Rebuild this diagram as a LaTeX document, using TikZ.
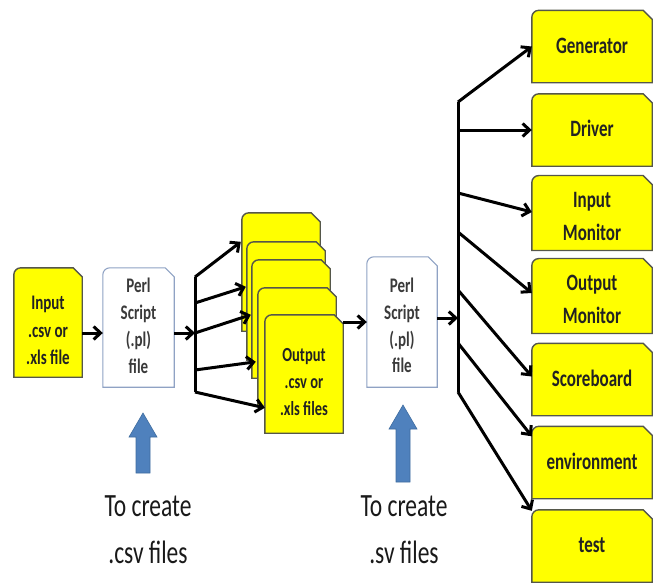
\documentclass[tikz,border=0pt]{standalone}
\usepackage{fontspec}
\setmainfont{Carlito}
\usepackage{graphicx}
\usetikzlibrary{arrows.meta,calc,backgrounds}

\definecolor{boxyellow}{HTML}{FFFF00}
\definecolor{yellowline}{HTML}{55574A}
\definecolor{perlline}{HTML}{8FA2C4}
\definecolor{hintblue}{HTML}{4F81BD}
\definecolor{hintline}{HTML}{3E6C9F}
\definecolor{boxtext}{HTML}{222222}
\definecolor{perltext}{HTML}{3A3A3A}

% text lines set tall and narrow
\newcommand\tallstack[1]{\scalebox{1}[1.38]{\begin{tabular}{@{}c@{}}#1\end{tabular}}}

% outline of a file card: snipped top-right corner, rounded top-left corner
\newcommand\snip{9pt}
\newcommand\rnd{7pt}
\newcommand\cardoutline[2]{%
  \path[#2] (#1.south west) -- (#1.south east) -- ([yshift=-\snip]#1.north east)
    -- ([xshift=-\snip]#1.north east) -- ([xshift=\rnd]#1.north west)
    arc[start angle=90,end angle=180,radius=\rnd] -- cycle;}

\tikzset{
  card/.style={inner sep=0pt, text=boxtext},
  yellowcard/.style={fill=boxyellow, draw=yellowline, line width=1.4pt},
  perlcard/.style={fill=white, draw=perlline, line width=1.1pt},
  flow/.style={line width=3pt, black, -{Straight Barb[length=7pt,width=13pt]}},
  trunk/.style={line width=3pt, black},
  hint/.style={fill=hintblue, draw=hintline, line width=0.6pt},
}

\begin{document}
\begin{tikzpicture}[x=1pt,y=-1pt]
\useasboundingbox (0,0) rectangle (660,582);

% ---- source file and first script
\node[card, minimum width=68pt, minimum height=109pt,
      font=\bfseries\fontsize{15}{20}\selectfont] (input) at (48,322.5)
      {\tallstack{\\[-7pt]Input\\.csv or\\.xls file}};
\node[card, minimum width=71pt, minimum height=119pt, text=perltext,
      font=\bfseries\fontsize{15}{19.5}\selectfont] (perl1) at (138.5,327.5)
      {\tallstack{Perl\\Script\\(.pl)\\file}};

% ---- stack of generated files
\node[card, minimum width=78pt, minimum height=118pt] (out1) at (281,272) {};
\node[card, minimum width=78pt, minimum height=118pt] (out2) at (286,301) {};
\node[card, minimum width=78pt, minimum height=118pt] (out3) at (291,319) {};
\node[card, minimum width=78pt, minimum height=118pt] (out4) at (297,347) {};
\node[card, minimum width=78pt, minimum height=118pt,
      font=\bfseries\fontsize{14.5}{19.5}\selectfont] (out5) at (304,374)
      {\tallstack{\\[-6pt]Output\\.csv or\\.xls files}};

% ---- second script
\node[card, minimum width=70pt, minimum height=130pt, text=perltext,
      font=\bfseries\fontsize{15}{19.5}\selectfont] (perl2) at (402,322)
      {\tallstack{\\[-12pt]Perl\\Script\\(.pl)\\file}};

% ---- generated testbench components
\tikzset{comp/.style={card, minimum width=120pt, minimum height=72pt,
      font=\bfseries\fontsize{17}{24}\selectfont}}
\node[comp] (gen)  at (592,46.5)  {\tallstack{Generator}};
\node[comp] (drv)  at (592,130)   {\tallstack{Driver}};
\node[comp] (imon) at (592,213)   {\tallstack{\\[-18pt]Input\\Monitor}};
\node[comp] (omon) at (592,296)   {\tallstack{\\[-18pt]Output\\Monitor}};
\node[comp] (scb)  at (592,379.5) {\tallstack{Scoreboard}};
\node[comp] (env)  at (592,462.5) {\tallstack{environment}};
\node[comp] (tst)  at (592,546)   {\tallstack{test}};

% ---- card outlines behind the text
\begin{scope}[on background layer]
  \cardoutline{input}{yellowcard}
  \cardoutline{perl1}{perlcard}
  \cardoutline{out1}{yellowcard}
  \cardoutline{out2}{yellowcard}
  \cardoutline{out3}{yellowcard}
  \cardoutline{out4}{yellowcard}
  \cardoutline{out5}{yellowcard}
  \cardoutline{perl2}{perlcard}
  \foreach \n in {gen,drv,imon,omon,scb,env,tst}{\cardoutline{\n}{yellowcard}}
\end{scope}

% ---- fan-out from the first script
\coordinate (fa) at (195,277);
\coordinate (fb) at (195,303);
\coordinate (fc) at (195,333);
\coordinate (fd) at (195,370);
\coordinate (fe) at (195,392);
\draw[flow] (input.east |- fc) -- (perl1.west |- fc);
\draw[flow] (perl1.east |- fc) -- (fc);
\draw[trunk] (fa) -- (fe);
\draw[flow] (fa) -- ($(out1.north west)+(-1,29)$);
\draw[flow] (fb) -- ($(out2.north west)+(-1,45)$);
\draw[flow] (fc) -- ($(out3.north west)+(-1,55)$);
\draw[flow] (fd) -- ($(out4.north west)+(-2,74)$);
\draw[flow] (fe) -- ($(out5.north west)+(0,93)$);

% ---- into the second script
\draw[flow] (out5.east |- perl2.west) -- (perl2.west);

% ---- fan-out from the second script
\coordinate (ta) at (458,102);
\coordinate (tb) at (458,130);
\coordinate (tc) at (458,193);
\coordinate (td) at (458,232);
\coordinate (tp) at (458,318);
\coordinate (te) at (458,290);
\coordinate (tf) at (458,343);
\coordinate (tg) at (458,392);
\draw[flow] (perl2.east |- tp) -- (tp);
\draw[trunk] (ta) -- (tg);
\draw[flow] (ta) -- (gen.west);
\draw[flow] (tb) -- (drv.west);
\draw[flow] (tc) -- ($(imon.west)+(0,-1)$);
\draw[flow] (td) -- ($(omon.west)+(0,-3)$);
\draw[flow] (te) -- ($(scb.west)+(0,-3)$);
\draw[flow] (tf) -- ($(env.north west)+(0,10)$);
\draw[flow] (tg) -- ($(tst.north west)+(0,1)$);

% ---- hint arrows and captions
\path[hint] (136,473) -- (150,473) -- (150,437) -- (157,437) -- (143,413)
  -- (129,437) -- (136,437) -- cycle;
\path[hint] (396,482) -- (410,482) -- (410,429) -- (417,429) -- (403,405)
  -- (389,429) -- (396,429) -- cycle;
\node[inner sep=0pt, font=\fontsize{23.5}{34}\selectfont, text=black!90] (cap1) at (148,531)
  {\tallstack{To create\\.csv files}};
\node[inner sep=0pt, font=\fontsize{23.5}{34}\selectfont, text=black!90] (cap2) at (404,531)
  {\tallstack{To create\\.sv files}};
\end{tikzpicture}
\end{document}
